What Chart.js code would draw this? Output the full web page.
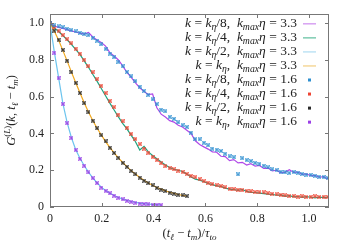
<!DOCTYPE html>
<html>
<head>
<meta charset="utf-8">
<script src="https://cdn.jsdelivr.net/npm/chart.js@4.4.0/dist/chart.umd.min.js"></script>
<style>
html, body { margin: 0; padding: 0; background: #fff; }
</style>
</head>
<body>
<canvas id="chart" width="350" height="245"></canvas>
<script>
// time grid (t_l - t_m)/tau_to shared by every series
const tGrid = [0, 0.0165, 0.033, 0.0495, 0.066, 0.0825, 0.099, 0.1155, 0.132, 0.1485,
    0.165, 0.1815, 0.198, 0.2145, 0.231, 0.2475, 0.264, 0.2805, 0.297, 0.3135,
    0.33, 0.3465, 0.363, 0.3795, 0.396, 0.4125, 0.429, 0.4455, 0.462, 0.4785,
    0.495, 0.5115, 0.528, 0.5445, 0.561, 0.5775, 0.594, 0.6105, 0.627, 0.6435,
    0.66, 0.6765, 0.693, 0.7095, 0.726, 0.7425, 0.759, 0.7755, 0.792, 0.8085,
    0.825, 0.8415, 0.858, 0.8745, 0.891, 0.9075, 0.924, 0.9405, 0.957, 0.9735,
    0.99, 1.0065, 1.023, 1.0395, 1.056, 1.0725];

const xTicks = [0, 0.2, 0.4, 0.6, 0.8, 1];
const yTicks = [0, 0.2, 0.4, 0.6, 0.8, 1];

// legend text parts
const kFracs = ['/8', '/4', '/2', ''];
const kmaxEta = ['3.3', '1.6'];

// kmax*eta = 3.3 (lines)
const line8 = [1, 0.985, 0.977, 0.972, 0.965, 0.958, 0.952, 0.946, 0.941, 0.95,
    0.925, 0.908, 0.895, 0.875, 0.84, 0.822, 0.8, 0.768, 0.732, 0.705,
    0.675, 0.648, 0.628, 0.612, 0.615, 0.54, 0.505, 0.49, 0.47, 0.462,
    0.445, 0.435, 0.418, 0.4, 0.36, 0.34, 0.327, 0.315, 0.3, 0.298,
    0.276, 0.274, 0.252, 0.258, 0.24, 0.243, 0.228, 0.236, 0.222, 0.226,
    0.21, 0.212, 0.196, 0.2, 0.186, 0.19, 0.203, 0.188, 0.19, 0.178,
    0.18, 0.17, 0.172, 0.162, 0.165, 0.152];
const line4 = [1, 0.975, 0.955, 0.932, 0.91, 0.885, 0.857, 0.83, 0.795, 0.76,
    0.722, 0.685, 0.645, 0.605, 0.565, 0.528, 0.49, 0.455, 0.425, 0.39,
    0.355, 0.31, 0.33, 0.3, 0.28, 0.262, 0.245, 0.228, 0.215, 0.205,
    0.2, 0.193, 0.18, 0.163, 0.152, 0.146, 0.138, 0.128, 0.122, 0.115,
    0.112, 0.103, 0.097, 0.095, 0.09, 0.095, 0.085, 0.08, 0.079, 0.076,
    0.073, 0.07, 0.069, 0.064, 0.066, 0.058, 0.062, 0.055, 0.057, 0.052,
    0.056, 0.053, 0.05, 0.054, 0.051, 0.053];
const line2 = [1, 0.845, 0.705, 0.565, 0.46, 0.378, 0.313, 0.265, 0.226, 0.19,
    0.158, 0.132, 0.108, 0.09, 0.076, 0.063, 0.052, 0.043, 0.036, 0.03,
    0.025, 0.021, 0.018, 0.016, 0.014, 0.013, 0.012];
const line1 = [1, 0.958, 0.908, 0.852, 0.795, 0.735, 0.677, 0.622, 0.567, 0.517,
    0.471, 0.43, 0.392, 0.356, 0.324, 0.295, 0.267, 0.242, 0.22, 0.198,
    0.179, 0.161, 0.145, 0.131, 0.118, 0.106, 0.097, 0.088, 0.08, 0.074,
    0.068, 0.063, 0.06];

// kmax*eta = 1.6 (points)
const pts8 = [1, 0.988, 0.982, 0.978, 0.97, 0.962, 0.955, 0.948, 0.94, 0.935,
    0.92, 0.905, 0.885, 0.86, 0.835, 0.815, 0.79, 0.765, 0.735, 0.71,
    0.685, 0.655, 0.632, 0.61, 0.585, 0.56, 0.53, 0.52, 0.49, 0.48,
    0.46, 0.445, 0.435, 0.405, 0.37, 0.368, 0.35, 0.335, 0.318, 0.312,
    0.305, 0.29, 0.275, 0.27, 0.177, 0.265, 0.255, 0.25, 0.24, 0.235,
    0.225, 0.215, 0.205, 0.2, 0.192, 0.188, 0.185, 0.19, 0.186, 0.18,
    0.176, 0.175, 0.17, 0.165, 0.162, 0.158];
const pts4 = [1, 0.977, 0.959, 0.935, 0.912, 0.89, 0.862, 0.835, 0.802, 0.766,
    0.733, 0.695, 0.66, 0.62, 0.578, 0.543, 0.503, 0.466, 0.432, 0.398,
    0.37, 0.342, 0.318, 0.295, 0.272, 0.255, 0.238, 0.222, 0.21, 0.205,
    0.198, 0.19, 0.18, 0.17, 0.162, 0.152, 0.14, 0.132, 0.125, 0.118,
    0.113, 0.107, 0.1, 0.097, 0.094, 0.091, 0.088, 0.085, 0.081, 0.08,
    0.079, 0.075, 0.072, 0.069, 0.066, 0.063, 0.059, 0.06, 0.057, 0.058,
    0.055, 0.056, 0.058, 0.054, 0.056, 0.055];
const pts2 = [1, 0.96, 0.91, 0.855, 0.797, 0.733, 0.675, 0.62, 0.565, 0.515,
    0.47, 0.428, 0.39, 0.357, 0.323, 0.294, 0.268, 0.24, 0.219, 0.197,
    0.178, 0.16, 0.143, 0.13, 0.117, 0.104, 0.095, 0.087, 0.078, 0.073,
    0.067, 0.063, 0.059];
const pts1 = [1, 0.84, 0.70, 0.56, 0.455, 0.375, 0.31, 0.262, 0.225, 0.188,
    0.157, 0.13, 0.106, 0.088, 0.074, 0.062, 0.05, 0.041, 0.034, 0.028,
    0.023, 0.019, 0.017, 0.014, 0.012, 0.012, 0.010];

const FONT = '"Liberation Serif", "DejaVu Serif", serif';
const FRAME = '#777';

function xy(ys) {
    return ys.map((y, i) => ({ x: tGrid[i], y: y }));
}

// small "x in a square" marker like gnuplot's
function marker(color) {
    const c = document.createElement('canvas');
    c.width = 4; c.height = 4;
    const g = c.getContext('2d');
    g.globalAlpha = 0.45;
    g.fillStyle = color;
    g.fillRect(0, 0, 4, 4);
    g.globalAlpha = 0.9;
    g.strokeStyle = color;
    g.lineWidth = 0.9;
    g.beginPath();
    g.moveTo(0.3, 0.3); g.lineTo(3.7, 3.7);
    g.moveTo(3.7, 0.3); g.lineTo(0.3, 3.7);
    g.stroke();
    return c;
}

const lineSets = [
    { data: line8, color: '#b048e8', key: '#d7a2f2' },
    { data: line4, color: '#1fa37f', key: '#7dcbb0' },
    { data: line2, color: '#6cc4ee', key: '#bfe3f5' },
    { data: line1, color: '#f0a820', key: '#f5d89a' }
];
const pointSets = [
    { data: pts8, color: '#2e8fd0' },
    { data: pts4, color: '#ee4433' },
    { data: pts2, color: '#2a2a2a' },
    { data: pts1, color: '#9b3fe6' }
];

const datasets = [];
lineSets.forEach(s => datasets.push({
    data: xy(s.data), borderColor: s.color, borderWidth: 1.2,
    pointRadius: 0, tension: 0, fill: false, order: 2
}));
pointSets.forEach(s => datasets.push({
    data: xy(s.data), showLine: false, pointStyle: marker(s.color),
    pointRadius: 2, order: 1
}));

// rich text: [text, kind] kind r/i normal, s* subscript, p* superscript
function segFont(kind, size) {
    const it = kind[kind.length - 1] === 'i';
    const small = kind.length === 2;
    return (it ? 'italic ' : '') + (small ? size * 0.72 : size) + 'px ' + FONT;
}
function segShift(kind, size) {
    if (kind[0] === 's' && kind.length === 2) return size * 0.28;
    if (kind[0] === 'p' && kind.length === 2) return -size * 0.38;
    return 0;
}
function drawRich(g, segs, x, y, align, size) {
    let w = 0;
    segs.forEach(s => { g.font = segFont(s[1], size); w += g.measureText(s[0]).width; });
    let cx = align === 'right' ? x - w : align === 'center' ? x - w / 2 : x;
    g.textAlign = 'left';
    g.textBaseline = 'middle';
    segs.forEach(s => {
        g.font = segFont(s[1], size);
        g.fillText(s[0], cx, y + segShift(s[1], size));
        cx += g.measureText(s[0]).width;
    });
}

const decor = {
    id: 'decor',
    afterDraw(chart) {
        const g = chart.ctx;
        const a = chart.chartArea;
        const xs = chart.scales.x, ys = chart.scales.y;
        g.save();
        // frame and inward ticks on all sides
        g.strokeStyle = FRAME;
        g.lineWidth = 1;
        g.strokeRect(a.left + 0.5, a.top + 0.5, a.right - a.left - 1, a.bottom - a.top - 1);
        g.beginPath();
        xTicks.forEach(v => {
            const px = Math.round(xs.getPixelForValue(v)) + 0.5;
            g.moveTo(px, a.bottom); g.lineTo(px, a.bottom - 4);
            g.moveTo(px, a.top); g.lineTo(px, a.top + 4);
        });
        yTicks.forEach(v => {
            const py = Math.round(ys.getPixelForValue(v)) + 0.5;
            g.moveTo(a.left, py); g.lineTo(a.left + 4, py);
            g.moveTo(a.right, py); g.lineTo(a.right - 4, py);
        });
        g.stroke();

        g.fillStyle = '#222';
        // x title
        drawRich(g, [['(', 'r'], ['t', 'i'], ['ℓ', 'si'], [' − ', 'r'], ['t', 'i'], ['m', 'si'],
            [')/', 'r'], ['τ', 'i'], ['to', 'si']], (a.left + a.right) / 2, 234, 'center', 12.5);
        // y title
        g.save();
        g.translate(12, (a.top + a.bottom) / 2);
        g.rotate(-Math.PI / 2);
        drawRich(g, [['G', 'i'], ['(', 'pr'], ['L', 'pi'], [')', 'pr'], ['(', 'r'], ['k', 'i'], [', ', 'r'],
            ['t', 'i'], ['ℓ', 'si'], [' − ', 'r'], ['t', 'i'], ['m', 'si'], [')', 'r']], 0, 0, 'center', 12.5);
        g.restore();

        // legend
        for (let i = 0; i < 8; i++) {
            const y = 23.3 + i * 14.05;
            const frac = kFracs[i % 4];
            const kv = kmaxEta[i < 4 ? 0 : 1];
            g.fillStyle = '#222';
            drawRich(g, [['k', 'i'], [' = ', 'r'], ['k', 'i'], ['η', 'si'], [frac + ',  ', 'r'],
                ['k', 'i'], ['max', 'si'], ['η', 'i'], [' = ' + kv, 'r']], 297, y, 'right', 13.5);
            if (i < 4) {
                g.strokeStyle = lineSets[i].key;
                g.lineWidth = 1.5;
                g.beginPath();
                g.moveTo(303, y + 0.5); g.lineTo(316, y + 0.5);
                g.stroke();
            } else {
                g.fillStyle = pointSets[i - 4].color;
                g.fillRect(308, y - 1, 3, 3);
            }
        }
        g.restore();
    }
};

new Chart(document.getElementById('chart'), {
    type: 'line',
    data: { datasets: datasets },
    options: {
        responsive: false,
        animation: false,
        layout: { padding: { left: 0, right: 21, top: 14, bottom: 0 } },
        plugins: { legend: { display: false }, tooltip: { enabled: false } },
        scales: {
            x: {
                type: 'linear', min: 0, max: 1.077,
                afterFit: s => { s.height = 38; },
                afterBuildTicks: s => { s.ticks = xTicks.map(v => ({ value: v })); },
                grid: { display: false, drawTicks: false },
                border: { display: false },
                ticks: { padding: 5, color: '#222', font: { family: FONT, size: 12 }, maxRotation: 0 }
            },
            y: {
                type: 'linear', min: 0, max: 1.05,
                afterFit: s => { s.width = 50; },
                afterBuildTicks: s => { s.ticks = yTicks.map(v => ({ value: v })); },
                grid: { display: false, drawTicks: false },
                border: { display: false },
                ticks: { padding: 6, color: '#222', font: { family: FONT, size: 12 } }
            }
        }
    },
    plugins: [decor]
});
</script>
</body>
</html>
